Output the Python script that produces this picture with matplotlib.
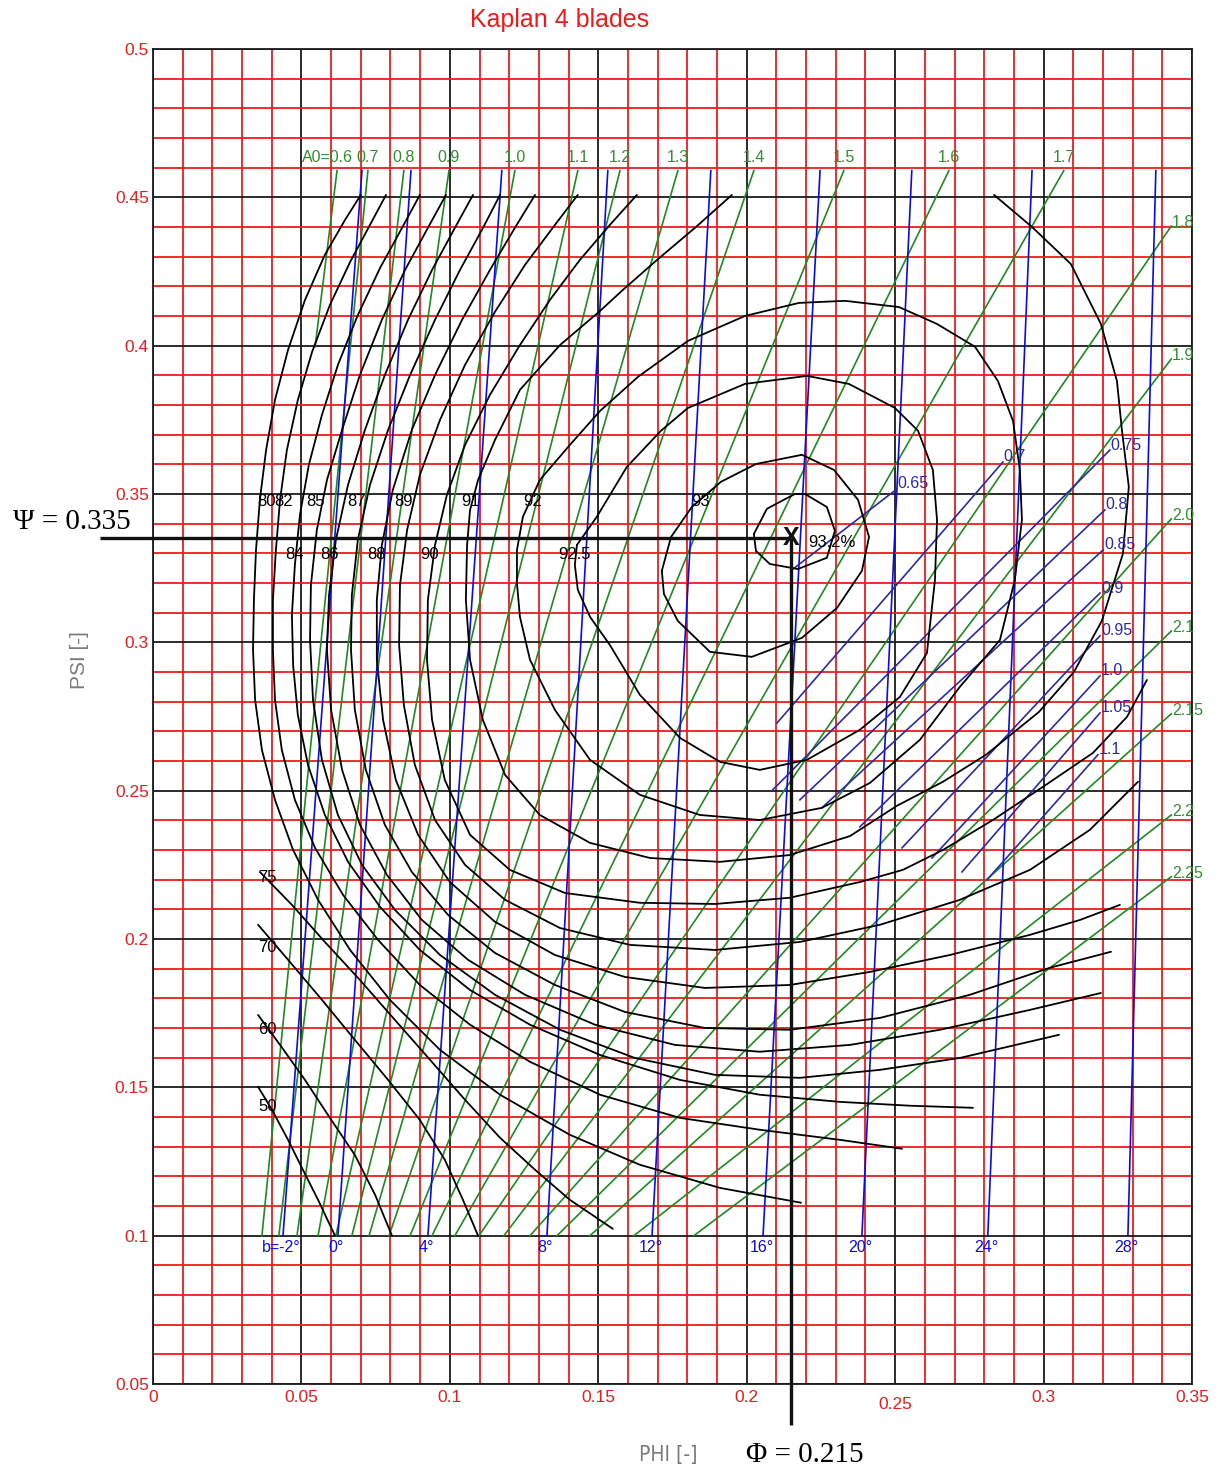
import matplotlib.pyplot as plt
import matplotlib.transforms as mtransforms
import numpy as np

plt.rcParams['font.family'] = ['Liberation Sans', 'DejaVu Sans']

# operating point read on the hill chart
phi_op = 0.215
psi_op = 0.335

phi_ticks = [0, 0.05, 0.1, 0.15, 0.2, 0.25, 0.3, 0.35]
phi_tick_labels = ['0', '0.05', '0.1', '0.15', '0.2', '0.25', '0.3', '0.35']
psi_ticks = [0.05, 0.1, 0.15, 0.2, 0.25, 0.3, 0.35, 0.4, 0.45, 0.5]
psi_tick_labels = ['0.05', '0.1', '0.15', '0.2', '0.25', '0.3', '0.35', '0.4', '0.45', '0.5']

# efficiency contours, points are (phi, psi)
eff_932 = [(0.2024, 0.3365), (0.2068, 0.3450), (0.2162, 0.3500), (0.2196, 0.3500), (0.2270, 0.3456),
           (0.2297, 0.3376), (0.2270, 0.3285), (0.2172, 0.3247), (0.2078, 0.3264), (0.2031, 0.3308),
           (0.2024, 0.3365)]
eff_93 = [(0.1714, 0.3241), (0.1745, 0.3355), (0.1815, 0.3456), (0.1913, 0.3541), (0.2031, 0.3601),
          (0.2186, 0.3632), (0.2294, 0.3581), (0.2375, 0.3480), (0.2412, 0.3355), (0.2388, 0.3241),
          (0.2304, 0.3116), (0.2186, 0.3015), (0.2017, 0.2951), (0.1876, 0.2968), (0.1768, 0.3072),
          (0.1721, 0.3163), (0.1714, 0.3241)]
eff_925 = [(0.1428, 0.3328), (0.1495, 0.3423), (0.1596, 0.3591), (0.1711, 0.3713), (0.1802, 0.3790),
           (0.1994, 0.3871), (0.2203, 0.3898), (0.2344, 0.3871), (0.2499, 0.3790), (0.2577, 0.3713),
           (0.2627, 0.3581), (0.2641, 0.3413), (0.2634, 0.3210), (0.2607, 0.2964), (0.2516, 0.2816),
           (0.2381, 0.2705), (0.2203, 0.2604), (0.2044, 0.2570), (0.1910, 0.2597), (0.1775, 0.2678),
           (0.1640, 0.2823), (0.1539, 0.2991), (0.1472, 0.3086), (0.1431, 0.3177), (0.1421, 0.3261),
           (0.1428, 0.3328)]
eff_92 = [(0.1303, 0.3547), (0.1404, 0.3665), (0.1506, 0.3780), (0.1634, 0.3895), (0.1802, 0.4016),
          (0.1994, 0.4100), (0.2176, 0.4144), (0.2331, 0.4151), (0.2513, 0.4130), (0.2641, 0.4073),
          (0.2769, 0.3996), (0.2846, 0.3881), (0.2897, 0.3746), (0.2920, 0.3581), (0.2927, 0.3413),
          (0.2903, 0.3210), (0.2853, 0.3008), (0.2718, 0.2850), (0.2583, 0.2671), (0.2415, 0.2526),
          (0.2253, 0.2442), (0.2044, 0.2401), (0.1842, 0.2418), (0.1640, 0.2486), (0.1472, 0.2604),
          (0.1354, 0.2772), (0.1270, 0.2941), (0.1236, 0.3086), (0.1226, 0.3200), (0.1226, 0.3311),
          (0.1246, 0.3423), (0.1303, 0.3547)]
eff_91 = [(0.1950, 0.4508), (0.1829, 0.4400), (0.1698, 0.4289), (0.1583, 0.4188), (0.1506, 0.4117),
          (0.1371, 0.4002), (0.1236, 0.3851), (0.1152, 0.3682), (0.1095, 0.3547), (0.1068, 0.3446),
          (0.1058, 0.3328), (0.1054, 0.3143), (0.1068, 0.2941), (0.1111, 0.2739), (0.1186, 0.2553),
          (0.1303, 0.2418), (0.1472, 0.2324), (0.1674, 0.2273), (0.1910, 0.2260), (0.2145, 0.2283),
          (0.2348, 0.2347), (0.2506, 0.2449), (0.2661, 0.2530), (0.2806, 0.2621), (0.2984, 0.2765),
          (0.3102, 0.2900), (0.3196, 0.3072), (0.3267, 0.3298), (0.3287, 0.3524), (0.3264, 0.3713),
          (0.3247, 0.3881), (0.3193, 0.4073), (0.3092, 0.4275), (0.2961, 0.4400), (0.2833, 0.4508)]
eff_90 = [(0.1630, 0.4508), (0.1539, 0.4407), (0.1438, 0.4289), (0.1337, 0.4154), (0.1236, 0.4002),
          (0.1135, 0.3834), (0.1051, 0.3665), (0.0990, 0.3497), (0.0950, 0.3328), (0.0926, 0.3143),
          (0.0923, 0.2941), (0.0940, 0.2739), (0.0983, 0.2536), (0.1068, 0.2351), (0.1202, 0.2233),
          (0.1388, 0.2155), (0.1640, 0.2122), (0.1893, 0.2118), (0.2145, 0.2139), (0.2381, 0.2192),
          (0.2526, 0.2233), (0.2661, 0.2300), (0.2829, 0.2401), (0.2998, 0.2513), (0.3166, 0.2627),
          (0.3281, 0.2749), (0.3348, 0.2873)]
eff_89 = [(0.1431, 0.4508), (0.1354, 0.4407), (0.1253, 0.4272), (0.1152, 0.4114), (0.1051, 0.3935),
          (0.0967, 0.3750), (0.0899, 0.3564), (0.0856, 0.3379), (0.0832, 0.3193), (0.0829, 0.2991),
          (0.0845, 0.2789), (0.0882, 0.2587), (0.0950, 0.2401), (0.1051, 0.2250), (0.1186, 0.2132),
          (0.1371, 0.2037), (0.1607, 0.1980), (0.1893, 0.1963), (0.2179, 0.1990), (0.2449, 0.2048),
          (0.2718, 0.2132), (0.2954, 0.2233), (0.3156, 0.2368), (0.3318, 0.2530)]
eff_88 = [(0.1287, 0.4508), (0.1219, 0.4397), (0.1135, 0.4255), (0.1041, 0.4087), (0.0950, 0.3901),
          (0.0872, 0.3716), (0.0808, 0.3514), (0.0771, 0.3328), (0.0754, 0.3143), (0.0754, 0.2941),
          (0.0775, 0.2739), (0.0818, 0.2536), (0.0893, 0.2351), (0.1000, 0.2192), (0.1152, 0.2058),
          (0.1354, 0.1946), (0.1590, 0.1872), (0.1859, 0.1835), (0.2145, 0.1845), (0.2415, 0.1889),
          (0.2684, 0.1946), (0.2954, 0.2014), (0.3122, 0.2064), (0.3257, 0.2115)]
eff_87 = [(0.1169, 0.4508), (0.1108, 0.4390), (0.1034, 0.4255), (0.0950, 0.4087), (0.0866, 0.3901),
          (0.0792, 0.3716), (0.0731, 0.3531), (0.0690, 0.3345), (0.0670, 0.3160), (0.0667, 0.2974),
          (0.0680, 0.2772), (0.0717, 0.2570), (0.0781, 0.2385), (0.0872, 0.2226), (0.0994, 0.2081),
          (0.1152, 0.1953), (0.1354, 0.1845), (0.1590, 0.1754), (0.1859, 0.1700), (0.2145, 0.1694),
          (0.2449, 0.1734), (0.2752, 0.1812), (0.3021, 0.1903), (0.3227, 0.1957)]
eff_86 = [(0.1078, 0.4508), (0.1017, 0.4397), (0.0940, 0.4255), (0.0859, 0.4087), (0.0781, 0.3901),
          (0.0714, 0.3716), (0.0657, 0.3531), (0.0616, 0.3345), (0.0593, 0.3160), (0.0586, 0.2974),
          (0.0600, 0.2772), (0.0637, 0.2570), (0.0697, 0.2385), (0.0788, 0.2216), (0.0906, 0.2064),
          (0.1061, 0.1930), (0.1253, 0.1812), (0.1489, 0.1711), (0.1758, 0.1643), (0.2044, 0.1620),
          (0.2348, 0.1643), (0.2651, 0.1694), (0.2954, 0.1761), (0.3193, 0.1818)]
eff_85 = [(0.0987, 0.4508), (0.0926, 0.4397), (0.0849, 0.4255), (0.0771, 0.4087), (0.0697, 0.3901),
          (0.0637, 0.3716), (0.0586, 0.3547), (0.0552, 0.3379), (0.0532, 0.3193), (0.0529, 0.3008),
          (0.0539, 0.2806), (0.0569, 0.2604), (0.0623, 0.2418), (0.0704, 0.2250), (0.0815, 0.2098),
          (0.0967, 0.1946), (0.1152, 0.1812), (0.1371, 0.1694), (0.1623, 0.1599), (0.1893, 0.1542),
          (0.2179, 0.1532), (0.2449, 0.1559), (0.2718, 0.1599), (0.3052, 0.1677)]
eff_84 = [(0.0899, 0.4508), (0.0839, 0.4397), (0.0765, 0.4262), (0.0690, 0.4103), (0.0623, 0.3935),
          (0.0569, 0.3766), (0.0525, 0.3598), (0.0495, 0.3429), (0.0478, 0.3261), (0.0468, 0.3092),
          (0.0472, 0.2924), (0.0488, 0.2755), (0.0522, 0.2587), (0.0579, 0.2418), (0.0657, 0.2260),
          (0.0765, 0.2108), (0.0899, 0.1963), (0.1068, 0.1828), (0.1270, 0.1711), (0.1506, 0.1609),
          (0.1775, 0.1525), (0.2044, 0.1475), (0.2314, 0.1451), (0.2550, 0.1438), (0.2762, 0.1431)]
eff_82 = [(0.0785, 0.4508), (0.0731, 0.4407), (0.0664, 0.4282), (0.0596, 0.4137), (0.0536, 0.3979),
          (0.0488, 0.3817), (0.0451, 0.3648), (0.0428, 0.3480), (0.0414, 0.3311), (0.0404, 0.3143),
          (0.0404, 0.2974), (0.0411, 0.2806), (0.0434, 0.2637), (0.0478, 0.2469), (0.0546, 0.2307),
          (0.0640, 0.2149), (0.0758, 0.1997), (0.0899, 0.1845), (0.1068, 0.1711), (0.1270, 0.1586),
          (0.1506, 0.1475), (0.1775, 0.1397), (0.2044, 0.1357), (0.2314, 0.1323), (0.2523, 0.1293)]
eff_80 = [(0.0700, 0.4508), (0.0647, 0.4424), (0.0579, 0.4306), (0.0512, 0.4154), (0.0455, 0.3986),
          (0.0411, 0.3817), (0.0381, 0.3648), (0.0360, 0.3480), (0.0347, 0.3311), (0.0340, 0.3143),
          (0.0337, 0.2974), (0.0344, 0.2806), (0.0367, 0.2637), (0.0411, 0.2469), (0.0472, 0.2300),
          (0.0556, 0.2132), (0.0664, 0.1963), (0.0798, 0.1795), (0.0967, 0.1626), (0.1169, 0.1475),
          (0.1404, 0.1340), (0.1640, 0.1239), (0.1910, 0.1161), (0.2183, 0.1111)]
eff_75 = [(0.0360, 0.2226), (0.0468, 0.2115), (0.0579, 0.1990), (0.0697, 0.1862), (0.0815, 0.1727),
          (0.0933, 0.1593), (0.1051, 0.1458), (0.1169, 0.1330), (0.1287, 0.1222), (0.1404, 0.1121),
          (0.1549, 0.1023)]
eff_70 = [(0.0354, 0.2048), (0.0461, 0.1923), (0.0569, 0.1795), (0.0680, 0.1660), (0.0792, 0.1525),
          (0.0899, 0.1390), (0.0983, 0.1256), (0.1044, 0.1121), (0.1095, 0.1000)]
eff_60 = [(0.0354, 0.1744), (0.0428, 0.1643), (0.0512, 0.1525), (0.0596, 0.1397), (0.0680, 0.1272),
          (0.0748, 0.1138), (0.0805, 0.1000)]
eff_50 = [(0.0354, 0.1502), (0.0401, 0.1424), (0.0455, 0.1323), (0.0505, 0.1222), (0.0556, 0.1121),
          (0.0613, 0.1000)]

eff_curves = [eff_50, eff_60, eff_70, eff_75, eff_80, eff_82, eff_84, eff_85, eff_86, eff_87,
              eff_88, eff_89, eff_90, eff_91, eff_92, eff_925, eff_93, eff_932]
eff_labels = ['50', '60', '70', '75', '80', '82', '84', '85', '86', '87',
              '88', '89', '90', '91', '92', '92.5', '93', '93.2%']
# where each efficiency label sits on its curve
eff_label_pos = [(0.0387, 0.1434), (0.0387, 0.1694), (0.0387, 0.1970), (0.0384, 0.2206),
                 (0.0381, 0.3473), (0.0441, 0.3473), (0.0478, 0.3295), (0.0546, 0.3473),
                 (0.0593, 0.3295), (0.0684, 0.3473), (0.0754, 0.3295), (0.0845, 0.3473),
                 (0.0933, 0.3295), (0.1071, 0.3473), (0.1280, 0.3473), (0.1421, 0.3295),
                 (0.1846, 0.3473), (0.2287, 0.3335)]

# guide vane opening A0 lines
a0_labels = ['0.6', '0.7', '0.8', '0.9', '1.0', '1.1', '1.2', '1.3', '1.4', '1.5', '1.6', '1.7',
             '1.8', '1.9', '2.0', '2.1', '2.15', '2.2', '2.25']
a0_phi_low = [0.0546, 0.0367, 0.0424, 0.0485, 0.0556, 0.0616, 0.0670, 0.0728, 0.0795, 0.0866,
              0.0940, 0.1017, 0.1098, 0.1182, 0.1270, 0.1361, 0.1472, 0.1620, 0.1822]
a0_psi_low = [0.3996, 0.1, 0.1, 0.1, 0.1, 0.1, 0.1, 0.1, 0.1, 0.1,
              0.1, 0.1, 0.1, 0.1, 0.1, 0.1, 0.1, 0.1, 0.1]
a0_phi_high = [0.0620, 0.0724, 0.0845, 0.0997, 0.1219, 0.1431, 0.1573, 0.1768, 0.2024, 0.2327,
               0.2681, 0.3068, 0.3430, 0.3430, 0.3430, 0.3430, 0.3430, 0.3430, 0.3430]
a0_psi_high = [0.459, 0.459, 0.459, 0.459, 0.459, 0.459, 0.459, 0.459, 0.459, 0.459,
               0.459, 0.459, 0.4403, 0.3955, 0.3416, 0.3038, 0.2759, 0.2418, 0.2210]

# runner blade angle lines
blade_labels = ['b=-2°', '0°', '4°', '8°', '12°', '16°', '20°', '24°', '28°']
blade_phi_low = [0.0438, 0.0623, 0.0926, 0.1327, 0.1681, 0.2055, 0.2388, 0.2812, 0.3284]
blade_phi_high = [0.0704, 0.0869, 0.1175, 0.1532, 0.1879, 0.2247, 0.2556, 0.2961, 0.3378]
blade_psi_low = 0.1
blade_psi_high = 0.459

# cavitation coefficient lines
sigma_labels = ['0.65', '0.7', '0.75', '0.8', '0.85', '0.9', '0.95', '1.0', '1.05', '1.1']
sigma_phi_low = [0.2156, 0.2102, 0.2088, 0.2179, 0.2253, 0.2381, 0.2523, 0.2624, 0.2725, 0.2809]
sigma_psi_low = [0.3247, 0.2728, 0.2503, 0.2469, 0.2442, 0.2378, 0.2307, 0.2273, 0.2226, 0.2199]
sigma_phi_high = [0.2506, 0.2863, 0.3223, 0.3206, 0.3200, 0.3190, 0.3190, 0.3190, 0.3190, 0.3183]
sigma_psi_high = [0.3517, 0.3608, 0.3648, 0.3446, 0.3311, 0.3166, 0.3022, 0.2887, 0.2762, 0.2621]

RED = '#f01a1a'
GREEN = '#1f8a1f'
GREEN_TXT = '#2f8f2f'
BLUE = '#0a0aee'
NAVY = '#2a2aa6'
GREY = '#7a7a7a'


def draw_grid(ax):
    """Red 0.01 grid with black lines every 0.05."""
    ax.set_xlim(0, 0.35)
    ax.set_ylim(0.05, 0.5)
    ax.set_xticks(phi_ticks)
    ax.set_xticklabels(phi_tick_labels)
    ax.set_yticks(psi_ticks)
    ax.set_yticklabels(psi_tick_labels)
    minor_x = [v / 100 for v in range(1, 35) if v % 5]
    minor_y = [v / 100 for v in range(6, 50) if v % 5]
    ax.set_xticks(minor_x, minor=True)
    ax.set_yticks(minor_y, minor=True)
    ax.grid(which='minor', color=RED, lw=1.3)
    ax.grid(which='major', color='#1a1a1a', lw=1.3)
    ax.set_axisbelow(True)
    ax.tick_params(which='both', length=0)
    ax.tick_params(axis='both', colors=RED, labelsize=12.5)
    ax.tick_params(axis='x', pad=4)
    ax.tick_params(axis='y', pad=3)
    for spine in ax.spines.values():
        spine.set_color('#1a1a1a')
        spine.set_linewidth(1.3)


def draw_a0_lines(ax):
    for lab, x0, y0, x1, y1 in zip(a0_labels, a0_phi_low, a0_psi_low, a0_phi_high, a0_psi_high):
        ax.plot([x0, x1], [y0, y1], color=GREEN, lw=1.2, zorder=2)
        if y1 > 0.45:
            if lab == '0.6':
                ax.text(x1 + 0.0053, 0.4633, 'A0=' + lab, color=GREEN_TXT, fontsize=11.5,
                        ha='right', va='center', zorder=5)
            else:
                ax.text(x1, 0.4633, lab, color=GREEN_TXT, fontsize=11.5,
                        ha='center', va='center', zorder=5)
        else:
            ax.text(x1 + 0.0003, y1 + 0.0012, lab, color=GREEN_TXT, fontsize=11.5,
                    ha='left', va='center', zorder=5)


def draw_blade_lines(ax):
    for lab, x0, x1 in zip(blade_labels, blade_phi_low, blade_phi_high):
        ax.plot([x0, x1], [blade_psi_low, blade_psi_high], color=BLUE, lw=1.2, zorder=2.5)
        ax.text(x0 - 0.0005, 0.0959, lab, color=BLUE, fontsize=11.5,
                ha='center', va='center', zorder=5)


def draw_sigma_lines(ax):
    for lab, x0, y0, x1, y1 in zip(sigma_labels, sigma_phi_low, sigma_psi_low,
                                   sigma_phi_high, sigma_psi_high):
        ax.plot([x0, x1], [y0, y1], color=NAVY, lw=1.2, zorder=2.6)
        ax.text(x1 + 0.0003, y1 + 0.0017, lab, color=NAVY, fontsize=11.5,
                ha='left', va='center', zorder=5)


def draw_efficiency(ax):
    for pts, lab, pos in zip(eff_curves, eff_labels, eff_label_pos):
        pts = np.array(pts)
        ax.plot(pts[:, 0], pts[:, 1], color='black', lw=1.3, zorder=3,
                solid_joinstyle='round', solid_capstyle='round')
        ax.text(pos[0], pos[1], lab, color='black', fontsize=12,
                ha='center', va='center', zorder=5)


def draw_operating_point(ax):
    ax.plot([-0.0179, phi_op], [psi_op, psi_op], color='#111111', lw=2.4,
            clip_on=False, zorder=4, solid_capstyle='butt')
    ax.plot([phi_op, phi_op], [psi_op, 0.0362], color='#111111', lw=2.4,
            clip_on=False, zorder=4, solid_capstyle='butt')
    ax.text(phi_op, psi_op, 'X', color='#111111', fontsize=18, fontweight='bold',
            ha='center', va='center', zorder=6)


fig = plt.figure(figsize=(12.17, 14.70), dpi=100)
ax = fig.add_axes([0.1257, 0.0585, 0.8538, 0.9082])

draw_grid(ax)
draw_a0_lines(ax)
draw_blade_lines(ax)
draw_sigma_lines(ax)
draw_efficiency(ax)
draw_operating_point(ax)

# the 0.25 label sits a little lower than the others
shift = mtransforms.ScaledTranslation(0, -7 / 100, fig.dpi_scale_trans)
lab25 = ax.get_xticklabels()[5]
lab25.set_transform(lab25.get_transform() + shift)

fig.text(0.460, 0.9864, 'Kaplan 4 blades', color=RED, fontsize=18, ha='center', va='center')
fig.text(0.0657, 0.551, 'PSI [-]', color=GREY, fontsize=15, rotation=90,
         ha='center', va='center')
fig.text(0.549, 0.0102, 'PHI [-]', color=GREY, fontsize=15, ha='center', va='center',
         family='DejaVu Sans', fontstretch='condensed')
fig.text(0.6615, 0.0102, f'Φ = {phi_op}', color='black', fontsize=21,
         family=['Liberation Serif', 'DejaVu Serif'], ha='center', va='center')
fig.text(0.0592, 0.6449, f'Ψ = {psi_op}', color='black', fontsize=21,
         family=['Liberation Serif', 'DejaVu Serif'], ha='center', va='center')

fig.savefig('out.png', dpi=100, facecolor='white')
plt.close(fig)
